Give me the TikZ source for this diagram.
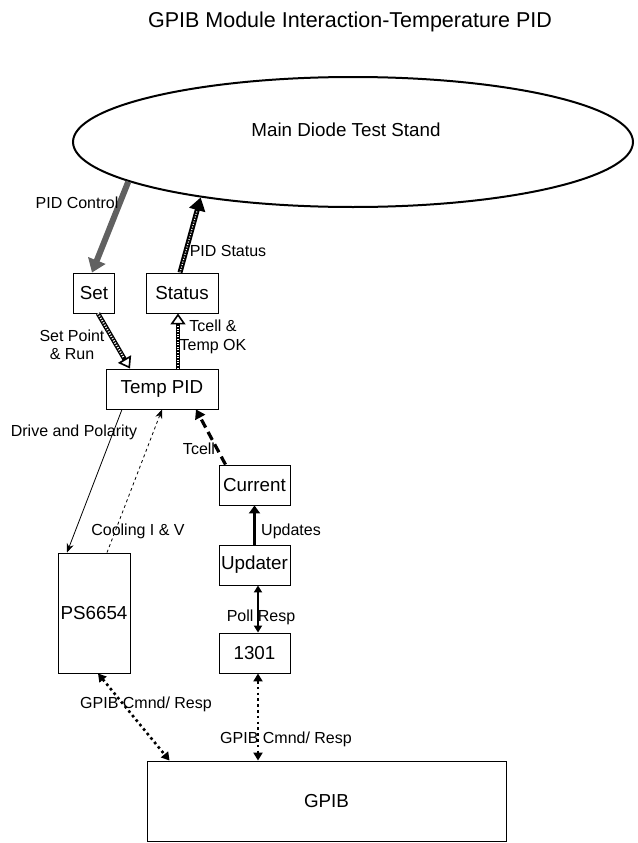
\documentclass[tikz,border=0pt]{standalone}
\usepackage{fontspec}
\setmainfont{Liberation Sans}
\usepackage{tikz}
\usepackage{xcolor}
\usetikzlibrary{positioning,arrows.meta,shapes.geometric,calc}

\begin{document}
\begin{tikzpicture}[
          x=1pt, y=-1pt,
          every node/.style={font=\fontsize{16}{18.5}\selectfont},
          box/.style={draw, line width=0.9pt, inner sep=0pt, font=\fontsize{18.8}{22}\selectfont},
          stand/.style={draw, ellipse, line width=2pt, minimum width=560, minimum height=130, inner sep=0pt},
          lbl/.style={align=center, inner sep=0pt},
          ctrlarrow/.style={draw=black!62, line width=6pt, -{Triangle[length=13pt,width=18pt]}},
          statarrow/.style={line width=5pt, -{Triangle[length=13pt,width=16pt]},
                            postaction={draw=white, arrows=-, line width=1.2pt, dash pattern=on 1pt off 1.6pt, shorten >=13pt}},
          hatch/.style={line width=4.6pt, -{Triangle[open,length=11pt,width=15pt,line width=1.6pt]},
                        postaction={draw=white, arrows=-, line width=2pt, dash pattern=on 1pt off 1.6pt, shorten >=12pt}},
          dashthick/.style={line width=3.2pt, dash pattern=on 9pt off 5pt, -{Triangle[length=9pt,width=11pt]}},
          solidthick/.style={line width=3.5pt, -{Triangle[length=8pt,width=11pt]}},
          poll/.style={line width=2pt, {Triangle[length=7pt,width=8pt]}-{Triangle[length=7pt,width=8pt]}},
          dotlink/.style={line width=2.6pt, dash pattern=on 2.6pt off 3.2pt, {Triangle[length=8pt,width=9pt]}-{Triangle[length=8pt,width=9pt]}},
          thin/.style={line width=0.8pt, -{Stealth[length=9pt,width=7pt]}}
      ]
        \useasboundingbox (0,0) rectangle (637,843);
        \node[font=\fontsize{21.5}{25}\selectfont] (title) at (350,22) {GPIB Module Interaction-Temperature PID};

        % boxes
        \node[stand] (stand) at (353,142) {};
        \node[box, draw=none] (standtxt) at (346,130) {Main Diode Test Stand};
        \node[box, minimum width=41, minimum height=40] (set) at (94,293) {Set};
        \node[box, minimum width=72, minimum height=40] (status) at (182,293) {Status};
        \node[box, minimum width=112, minimum height=40] (tpid) at (162,389) {Temp PID};
        \node[box, minimum width=71, minimum height=40] (current) at (254.5,485) {Current};
        \node[box, minimum width=71, minimum height=40] (updater) at (254.5,565) {Updater};
        \node[box, minimum width=71, minimum height=40] (m1301) at (254.5,653) {1301};
        \node[box, minimum width=72, minimum height=120] (ps) at (94,613) {PS6654};
        \node[box, minimum width=359, minimum height=80] (gpib) at (326.5,801) {GPIB};

        % connectors
        \draw[ctrlarrow] (stand.190) -- ([xshift=-2]set.north);
        \draw[statarrow] ([xshift=-2]status.north) -- (stand.200);
        \draw[hatch] ([xshift=4]set.south) -- ([xshift=-32]tpid.north);
        \draw[hatch] ([xshift=16]tpid.north) -- ([xshift=-4]status.south);
        \draw[dashthick] ([xshift=-29]current.north) -- ([xshift=34]tpid.south);
        \draw[thin] ([xshift=-40]tpid.south) -- ([xshift=-27]ps.north);
        \draw[thin, dashed] ([xshift=13]ps.north) -- (tpid.south);
        \draw[solidthick] (updater.north) -- (current.south);
        \draw[poll] ([xshift=3.5]updater.south) -- ([xshift=3.5]m1301.north);
        \draw[dotlink] ([xshift=4]ps.south) -- ([xshift=23]gpib.north west);
        \draw[dotlink] ([xshift=3.5]m1301.south) -- ([xshift=-68.5]gpib.north);

        % labels
        \node[lbl] (lctrl) at (77,203) {PID Control};
        \node[lbl] (lstat) at (228,251) {PID Status};
        \node[lbl] (lsetp) at (72,345) {Set Point\\\& Run};
        \node[lbl] (ltok) at (213,337) {Tcell \&\\Temp OK};
        \node[lbl] (ldrive) at (74,432) {Drive and Polarity};
        \node[lbl] (ltcell) at (199,449) {Tcell};
        \node[lbl] (lcool) at (138,531) {Cooling I \& V};
        \node[lbl] (lupd) at (291,531) {Updates};
        \node[lbl] (lpoll) at (261,617) {Poll Resp};
        \node[lbl] (lgpa) at (146,704) {GPIB Cmnd/ Resp};
        \node[lbl] (lgpb) at (286,739) {GPIB Cmnd/ Resp};
      \end{tikzpicture}
\end{document}
